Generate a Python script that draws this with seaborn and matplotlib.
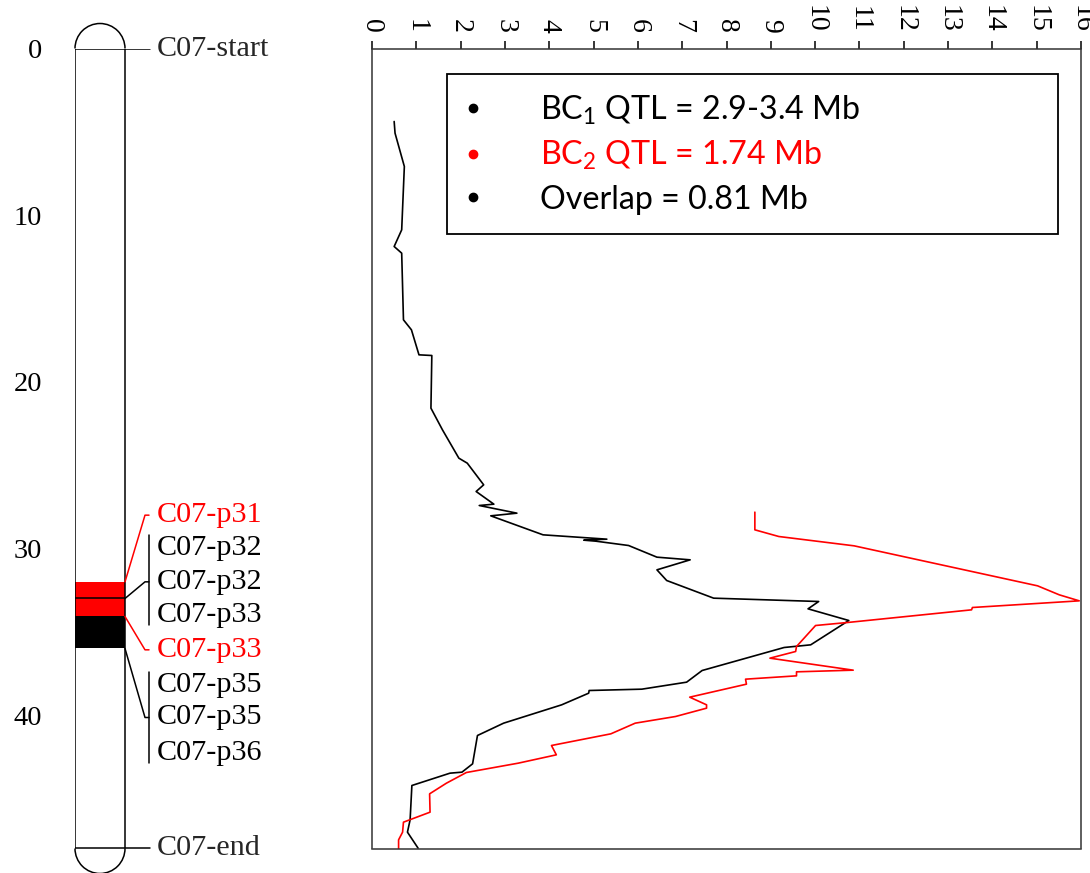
import matplotlib
matplotlib.use("Agg")
import matplotlib.pyplot as plt
from matplotlib.lines import Line2D
from matplotlib.patches import Rectangle, Arc
import seaborn as sns

# chromosome C07 (Mb)
chrom_len = 48.0
band_red = (32.0, 34.08)
band_black = (34.08, 36.0)
band_split = 33.0
yticks = [0, 10, 20, 30, 40]

# marker labels beside the chromosome
marker_names = ["C07-p31", "C07-p32", "C07-p32", "C07-p33", "C07-p33", "C07-p35", "C07-p35", "C07-p36"]
marker_pos = [28.0, 29.96, 32.0, 33.98, 36.08, 38.2, 40.14, 42.28]
marker_cols = ["red", "black", "black", "black", "red", "black", "black", "black"]

# LOD profiles: (LOD, position Mb)
bc1_lod = [0.50, 0.52, 0.73, 0.67, 0.50, 0.67, 0.71, 0.89, 1.06, 1.35, 1.33, 1.59, 1.96, 2.15,
           2.52, 2.35, 2.75, 2.42, 3.27, 2.68, 3.86, 5.30, 4.78, 5.05, 5.79, 6.43, 7.18, 6.43,
           6.65, 7.71, 10.08, 9.84, 10.76, 9.90, 9.30, 7.45, 7.10, 6.09, 4.90, 4.89, 4.28, 2.97,
           2.38, 2.27, 2.03, 1.76, 0.90, 0.86, 0.80, 1.04]
bc1_pos = [4.38, 5.08, 7.08, 10.88, 11.88, 12.28, 16.28, 16.88, 18.38, 18.42, 21.58, 22.88, 24.58, 24.88,
           26.18, 26.58, 27.34, 27.42, 27.88, 28.04, 29.18, 29.44, 29.50, 29.56, 29.82, 30.52, 30.68, 31.28,
           31.92, 32.98, 33.18, 33.62, 34.32, 35.78, 35.94, 37.32, 38.02, 38.44, 38.52, 38.68, 39.38, 40.48,
           41.22, 42.92, 43.42, 43.48, 44.22, 46.28, 47.02, 47.98]
bc2_lod = [8.64, 8.64, 9.18, 10.88, 15.02, 15.51, 15.96, 13.55, 13.53, 10.73, 10.01, 9.58, 9.56, 8.98,
           10.86, 9.58, 9.58, 8.43, 8.45, 7.17, 7.55, 7.55, 6.85, 5.94, 5.39, 4.05, 4.16, 3.30,
           2.13, 1.68, 1.30, 1.31, 0.71, 0.69, 0.60, 0.60]
bc2_pos = [27.82, 28.88, 29.28, 29.84, 32.24, 32.78, 33.14, 33.54, 33.68, 34.44, 34.62, 35.88, 36.18, 36.58,
           37.30, 37.40, 37.64, 37.84, 38.14, 38.92, 39.38, 39.58, 40.08, 40.48, 41.12, 41.82, 42.38, 42.88,
           43.44, 44.08, 44.72, 45.82, 46.42, 47.02, 47.48, 48.02]
lod_ticks = list(range(0, 17))

legend_labels = [r"BC$_\mathrm{1}$ QTL = 2.9-3.4 Mb", r"BC$_\mathrm{2}$ QTL = 1.74 Mb", "Overlap = 0.81 Mb"]
legend_cols = ["black", "red", "black"]

sns.set_style("white")
plt.rcParams["font.family"] = ["Liberation Serif", "DejaVu Serif"]
plt.rcParams["mathtext.fontset"] = "custom"
plt.rcParams["mathtext.rm"] = "Lato"

fig = plt.figure(figsize=(10.9, 8.73), dpi=100)
W, H = 1090, 873
top_px, bot_px = 48.5, 848.5

# ---- left: chromosome ideogram (x in pixel units)
axl = fig.add_axes([75 / W, 1 - bot_px / H, 290 / W, (bot_px - top_px) / H])
axl.set_xlim(0, 290)
axl.set_ylim(chrom_len, 0)
for s in axl.spines.values():
    s.set_visible(False)
axl.set_xticks([])
axl.set_yticks(yticks)
axl.tick_params(axis="y", direction="out", length=18, width=1.1, pad=5.5, labelsize=20.5, colors="black")

lw = 1.1
axl.plot([0, 0], [0, chrom_len], color="black", lw=lw)
axl.plot([50, 50], [0, chrom_len], color="black", lw=lw)
axl.plot([0, 75], [0, 0], color="black", lw=lw)
axl.plot([0, 75], [chrom_len, chrom_len], color="black", lw=lw)
ry = 25 / ((bot_px - top_px) / chrom_len)
axl.add_patch(Arc((25, 0), 50, 2 * ry, theta1=180, theta2=360, color="black", lw=lw, clip_on=False))
axl.add_patch(Arc((25, chrom_len), 50, 2 * ry, theta1=0, theta2=180, color="black", lw=lw, clip_on=False))
axl.add_patch(Rectangle((0, band_red[0]), 50, band_red[1] - band_red[0], color="red", lw=0))
axl.add_patch(Rectangle((0, band_black[0]), 50, band_black[1] - band_black[0], color="black", lw=0))
axl.plot([0, 50], [band_split, band_split], color="black", lw=lw)

# connectors and brackets
axl.plot([50, 70, 74], [band_red[0], marker_pos[0], marker_pos[0]], color="red", lw=lw)
axl.plot([50, 70, 74], [band_split, marker_pos[2], marker_pos[2]], color="black", lw=lw)
axl.plot([50, 70, 74], [band_red[1], marker_pos[4], marker_pos[4]], color="red", lw=lw)
axl.plot([50, 70, 74], [band_black[1], marker_pos[6], marker_pos[6]], color="black", lw=lw)
axl.plot([74, 74], [29.18, 34.62], color="black", lw=lw)
axl.plot([74, 74], [37.38, 42.84], color="black", lw=lw)

axl.text(82, 0, "C07-start", fontsize=21.7, va="center", ha="left")
axl.text(82, chrom_len, "C07-end", fontsize=21.7, va="center", ha="left")
for name, pos, col in zip(marker_names, marker_pos, marker_cols):
    axl.text(82, pos, name, fontsize=21.7, va="center", ha="left", color=col)

# ---- right: LOD profiles
axr = fig.add_axes([372 / W, 1 - bot_px / H, 709 / W, (bot_px - top_px) / H])
sns.lineplot(x=bc1_lod, y=bc1_pos, sort=False, estimator=None, orient="y", color="black", lw=1.2, ax=axr)
sns.lineplot(x=bc2_lod, y=bc2_pos, sort=False, estimator=None, orient="y", color="red", lw=1.2, ax=axr)
axr.set_xlim(0, 16)
axr.set_ylim(chrom_len, 0)
axr.set_yticks([])
axr.set_xticks(lod_ticks)
axr.xaxis.tick_top()
axr.tick_params(axis="x", direction="out", length=5.5, width=1.1, pad=6, labelsize=20,
                labelrotation=-90, colors="black")
for s in axr.spines.values():
    s.set_color("#333333")
    s.set_linewidth(1.1)
axr.set_xlabel("")
axr.set_ylabel("")

handles = [Line2D([], [], ls="", marker="o", markersize=6, color=c) for c in legend_cols]
x0 = (447 - 372) / 709
x1 = (1058 - 372) / 709
y0 = 1 - (74 - top_px) / (bot_px - top_px)
leg = axr.legend(handles, legend_labels, loc="upper left", bbox_to_anchor=(x0, y0 - 0.3, x1 - x0, 0.3),
                 mode="expand", borderaxespad=0, fancybox=False, framealpha=1, edgecolor="black",
                 prop={"family": "Lato", "size": 23.2}, labelcolor=legend_cols,
                 handlelength=0.43, handletextpad=1.87, borderpad=0.6, labelspacing=0.38)
leg.get_frame().set_linewidth(1.3)

fig.savefig("out.png", dpi=100)
